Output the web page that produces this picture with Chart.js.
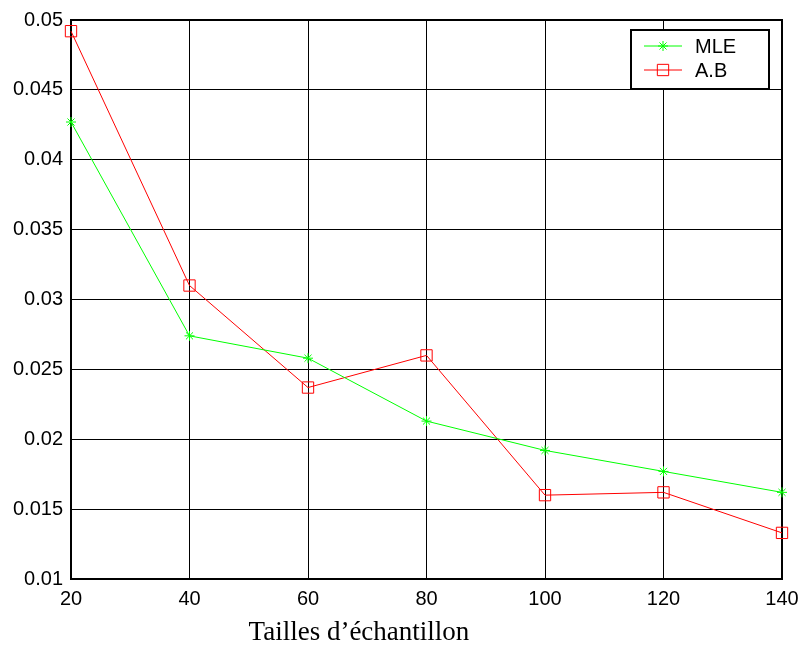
<!DOCTYPE html>
<html>
<head>
<meta charset="utf-8">
<script src="https://cdn.jsdelivr.net/npm/chart.js@4.4.1/dist/chart.umd.min.js"></script>
<style>
  html, body { margin: 0; padding: 0; background: #fff; }
  #wrap { width: 802px; height: 648px; }
</style>
</head>
<body>
<div id="wrap"><canvas id="chart" width="802" height="648"></canvas></div>
<script>
// sample sizes and estimated values
var tailles = [20, 40, 60, 80, 100, 120, 140];
var mle = [0.0427, 0.0274, 0.0258, 0.0213, 0.0192, 0.0177, 0.0162];
var ab = [0.0492, 0.0310, 0.0237, 0.0260, 0.0160, 0.0162, 0.0133];
var yTicks = [0.01, 0.015, 0.02, 0.025, 0.03, 0.035, 0.04, 0.045, 0.05];

var sansFont = '"Liberation Sans", Arial, sans-serif';

function pts(vals) {
    return tailles.map(function (t, i) { return { x: t, y: vals[i] }; });
}

// legend box inside the plot, top right
var boxLegend = {
    id: 'boxLegend',
    afterDatasetsDraw: function (chart) {
        var ctx = chart.ctx;
        var a = chart.chartArea;
        var x0 = a.right - 151, y0 = a.top + 10, w = 138, h = 59;
        ctx.save();
        ctx.fillStyle = '#fff';
        ctx.fillRect(x0, y0, w, h);
        ctx.strokeStyle = '#000';
        ctx.lineWidth = 2;
        ctx.strokeRect(x0, y0, w, h);
        chart.data.datasets.forEach(function (ds, i) {
            var cy = y0 + 16 + i * 24;
            ctx.strokeStyle = ds.borderColor;
            ctx.fillStyle = ds.backgroundColor;
            ctx.lineWidth = 1;
            ctx.beginPath();
            ctx.moveTo(x0 + 13, cy);
            ctx.lineTo(x0 + 51, cy);
            ctx.stroke();
            Chart.helpers.drawPoint(ctx, {
                pointStyle: ds.pointStyle,
                radius: ds.pointRadius,
                borderWidth: 1,
                rotation: 0
            }, x0 + 32, cy);
            ctx.fillStyle = '#000';
            ctx.font = '20px ' + sansFont;
            ctx.textBaseline = 'middle';
            ctx.textAlign = 'left';
            ctx.fillText(ds.label, x0 + 64, cy + 1);
        });
        ctx.restore();
    }
};

// x axis caption, serif like the rest of the document
var caption = {
    id: 'caption',
    afterDraw: function (chart) {
        var ctx = chart.ctx;
        var a = chart.chartArea;
        ctx.save();
        ctx.fillStyle = '#000';
        ctx.font = '27px "Liberation Serif", "Times New Roman", serif';
        ctx.textAlign = 'center';
        ctx.textBaseline = 'middle';
        ctx.fillText('Tailles d\u2019échantillon', a.left + (a.right - a.left) * 0.405, 633);
        ctx.restore();
    }
};

var myChart = new Chart(document.getElementById('chart'), {
    type: 'line',
    data: {
        datasets: [{
            label: 'MLE',
            data: pts(mle),
            borderColor: '#00ff00',
            backgroundColor: '#00ff00',
            borderWidth: 1,
            pointStyle: 'star',
            pointRadius: 5,
            pointBorderWidth: 1,
            tension: 0,
            clip: false
        }, {
            label: 'A.B',
            data: pts(ab),
            borderColor: '#ff0000',
            backgroundColor: 'rgba(0,0,0,0)',
            borderWidth: 1,
            pointStyle: 'rect',
            pointRadius: 8,
            pointBorderWidth: 1,
            tension: 0,
            clip: false
        }]
    },
    options: {
        responsive: false,
        animation: false,
        layout: { padding: { top: 20, right: 20, left: 0, bottom: 0 } },
        plugins: {
            legend: { display: false },
            tooltip: { enabled: false }
        },
        scales: {
            x: {
                type: 'linear',
                min: 20,
                max: 140,
                afterFit: function (s) {
                    s.height = 69;
                    s.paddingLeft = 0;
                    s.paddingRight = 0;
                },
                afterBuildTicks: function (s) {
                    s.ticks = tailles.map(function (t) { return { value: t }; });
                },
                ticks: {
                    color: '#000',
                    padding: 8,
                    font: { family: sansFont, size: 20 },
                    maxRotation: 0
                },
                grid: { color: '#000', lineWidth: 1, drawTicks: false },
                border: { color: '#000', width: 2 }
            },
            y: {
                min: 0.01,
                max: 0.05,
                afterFit: function (s) {
                    s.width = 71;
                    s.paddingTop = 0;
                    s.paddingBottom = 0;
                },
                afterBuildTicks: function (s) {
                    s.ticks = yTicks.map(function (v) { return { value: v }; });
                },
                ticks: {
                    color: '#000',
                    padding: 8,
                    font: { family: sansFont, size: 20 },
                    callback: function (v) { return String(parseFloat(v.toFixed(4))); }
                },
                grid: { color: '#000', lineWidth: 1, drawTicks: false },
                border: { color: '#000', width: 2 }
            }
        }
    },
    plugins: [{
        id: 'frame',
        beforeDatasetsDraw: function (chart) {
            var c = chart.ctx, a = chart.chartArea;
            c.save();
            c.strokeStyle = '#000';
            c.lineWidth = 2;
            c.strokeRect(a.left, a.top, a.right - a.left, a.bottom - a.top);
            c.restore();
        }
    }, boxLegend, caption]
});
</script>
</body>
</html>
